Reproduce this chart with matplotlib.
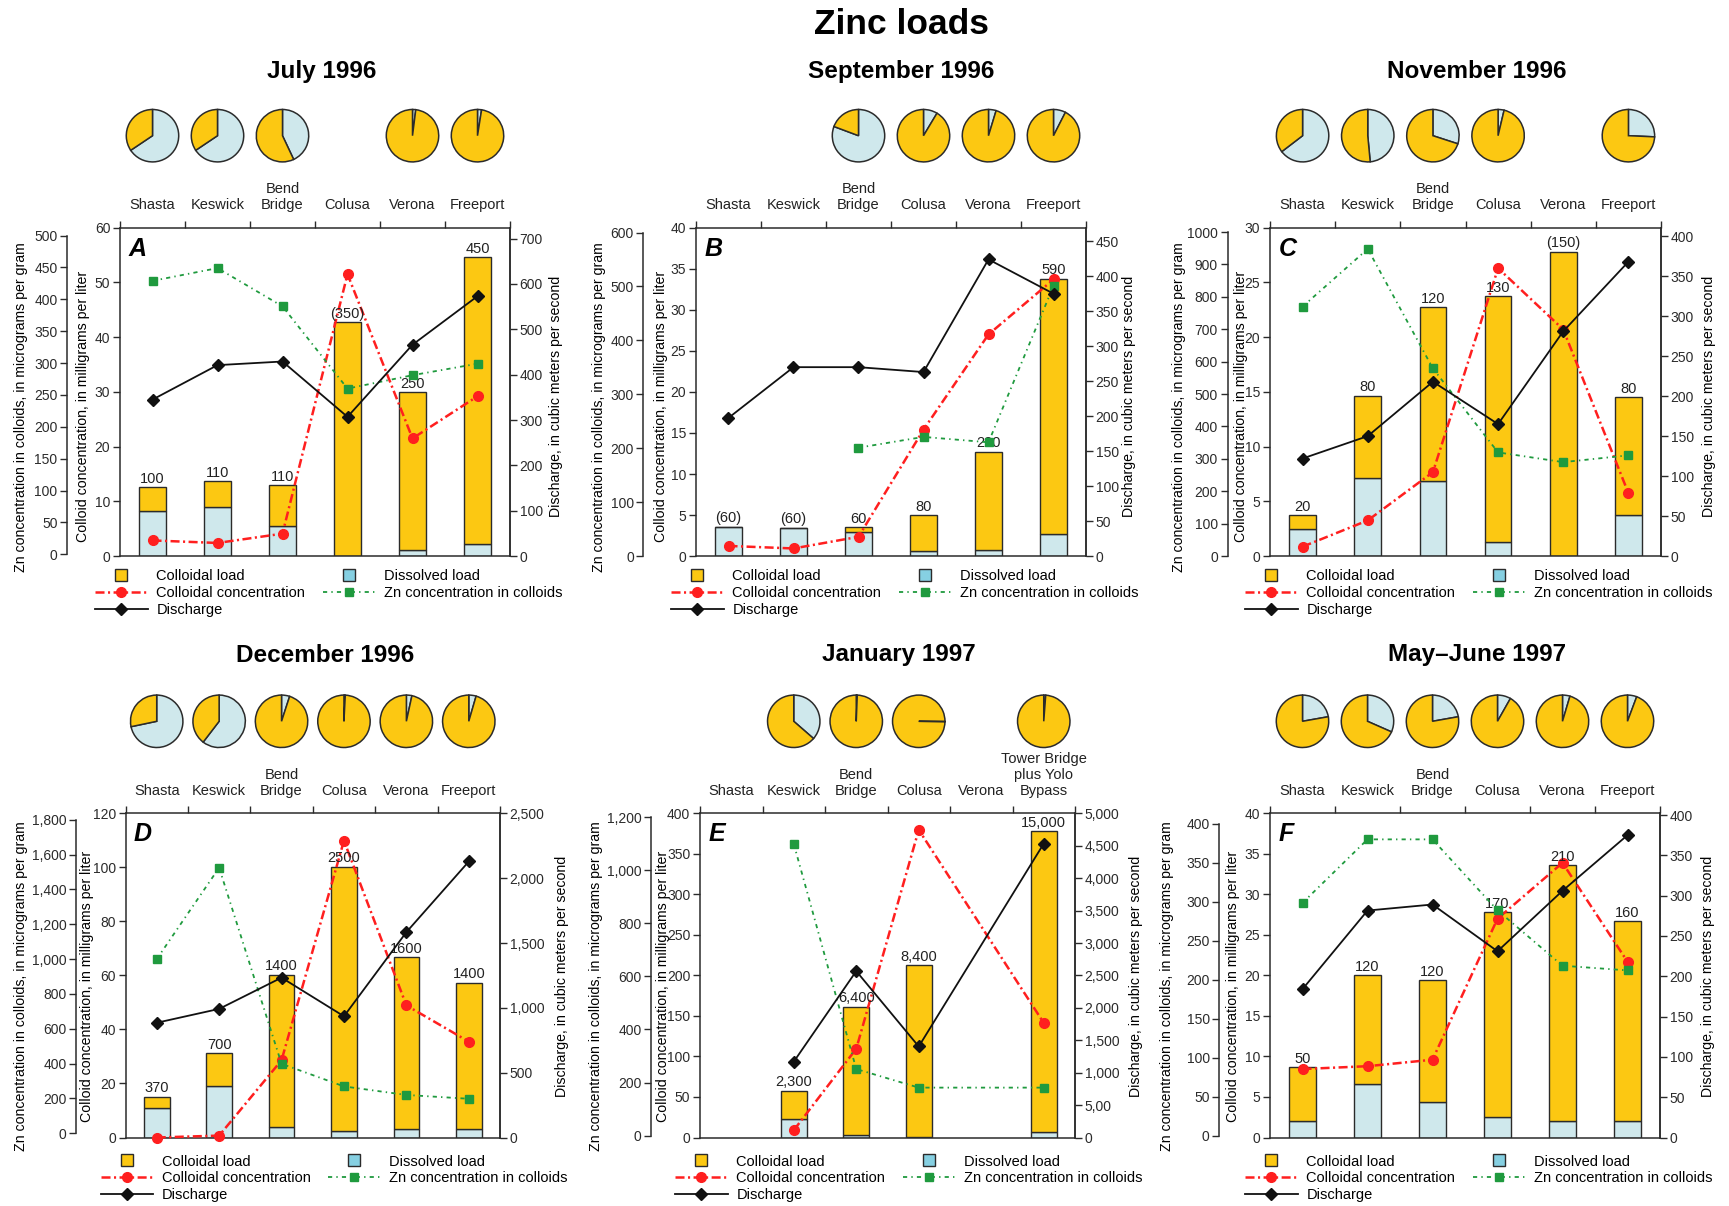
import numpy as np
import matplotlib
matplotlib.use('Agg')
import matplotlib.pyplot as plt
from matplotlib.lines import Line2D
from matplotlib.ticker import FixedLocator, FixedFormatter

plt.rcParams['font.family'] = ['Liberation Sans', 'DejaVu Sans']
plt.rcParams['lines.scale_dashes'] = False
plt.rcParams['axes.edgecolor'] = '#2b2b2b'
plt.rcParams['xtick.color'] = '#2b2b2b'
plt.rcParams['ytick.color'] = '#2b2b2b'

nan = np.nan

# ---------------- data ----------------
stations = ['Shasta', 'Keswick', 'Bend\nBridge', 'Colusa', 'Verona', 'Freeport']
stations_E = ['Shasta', 'Keswick', 'Bend\nBridge', 'Colusa', 'Verona',
              'Tower Bridge\nplus Yolo\nBypass']

# A  July 1996
A_dissolved = [8.3, 8.9, 5.5, 0.0, 1.06, 2.3]
A_colloidal = [4.3, 4.8, 7.5, 42.7, 28.94, 52.3]
A_labels = ['100', '110', '110', '(350)', '250', '450']
A_colconc = [2.86, 2.4, 4.1, 51.5, 21.5, 29.2]
A_zn = [429, 449, 389, 260, 281, 299]
A_discharge = [345, 421, 429, 307, 466, 573]
A_pie = [0.656, 0.656, 0.43, nan, 0.02, 0.025]

# B  September 1996
B_dissolved = [3.6, 3.45, 2.9, 0.62, 0.8, 2.7]
B_colloidal = [0.0, 0.0, 0.65, 4.34, 11.9, 31.1]
B_labels = ['(60)', '(60)', '60', '80', '220', '590']
B_colconc = [1.24, 0.93, 2.35, 15.4, 27.0, 33.7]
B_zn = [nan, nan, 201, 221, 211, 501]
B_discharge = [197.5, 270, 270, 263, 424, 375]
B_pie = [nan, nan, 0.807, 0.086, 0.047, 0.075]

# C  November 1996
C_dissolved = [2.43, 7.14, 6.9, 1.26, 0.0, 3.8]
C_colloidal = [1.29, 7.51, 15.86, 22.49, 27.8, 10.7]
C_labels = ['20', '80', '120', '130', '(150)', '80']
C_colconc = [0.86, 3.26, 7.67, 26.3, 20.7, 5.75]
C_zn = [770, 948, 579, 320, 290, 311]
C_discharge = [122, 150, 218, 165, 281, 368]
C_pie = [0.646, 0.485, 0.30, 0.037, nan, 0.257]

# D  December 1996
D_dissolved = [10.8, 18.9, 3.8, 2.3, 3.0, 3.0]
D_colloidal = [4.3, 12.4, 56.5, 97.9, 63.7, 54.3]
D_labels = ['370', '700', '1400', '2500', '1600', '1400']
D_colconc = [0.0, 0.7, 28.6, 109.9, 48.9, 35.5]
D_zn = [1000, 1525, 399, 269, 220, 198]
D_discharge = [885, 992, 1233, 935, 1584, 2129]
D_pie = [0.717, 0.604, 0.05, 0.008, 0.034, 0.045]

# E  January 1997
E_dissolved = [nan, 22.5, 3.6, 0.9, nan, 6.8]
E_colloidal = [nan, 35.2, 157.7, 212.1, nan, 371.2]
E_labels = ['', '2,300', '6,400', '8,400', '', '15,000']
E_colconc = [nan, 9.0, 109.5, 379.7, nan, 141.4]
E_zn = [nan, 1099, 251, 181, nan, 181]
E_discharge = [nan, 1169, 2567, 1404, nan, 4534]
E_pie = [nan, 0.364, 0.006, 0.003, nan, 0.012]
E_pie_start = [90, 90, 90, 0, 90, 90]

# F  May-June 1997
F_dissolved = [2.0, 6.57, 4.42, 2.55, 2.0, 2.0]
F_colloidal = [6.67, 13.43, 14.98, 25.25, 31.6, 24.7]
F_labels = ['50', '120', '120', '170', '210', '160']
F_colconc = [8.45, 8.8, 9.6, 27.0, 33.9, 21.7]
F_zn = [298.5, 380, 380, 289, 218, 212]
F_discharge = [184, 281.5, 289, 231, 306, 375]
F_pie = [0.222, 0.316, 0.222, 0.082, 0.046, 0.057]

# tick values / labels
A_mid_ticks = list(range(0, 61, 10)); A_out_ticks = list(range(0, 501, 50)); A_r_ticks = list(range(0, 701, 100))
B_mid_ticks = list(range(0, 41, 5)); B_out_ticks = list(range(0, 601, 100)); B_r_ticks = list(range(0, 451, 50))
C_mid_ticks = list(range(0, 31, 5)); C_out_ticks = list(range(0, 1001, 100)); C_r_ticks = list(range(0, 401, 50))
D_mid_ticks = list(range(0, 121, 20)); D_out_ticks = list(range(0, 1801, 200)); D_r_ticks = list(range(0, 2501, 500))
E_mid_ticks = list(range(0, 401, 50)); E_out_ticks = list(range(0, 1201, 200)); E_r_ticks = list(range(0, 5001, 500))
F_mid_ticks = list(range(0, 41, 5)); F_out_ticks = list(range(0, 401, 50)); F_r_ticks = list(range(0, 401, 50))
E_r_ticklabels = ['0', '5,00', '1,000', '1,500', '2,000', '2,500', '3,000',
                  '3,500', '4,000', '4,500', '5,000']

# ---------------- style ----------------
YELLOW = '#FCC812'
LBLUE = '#CFE8EC'
LBLUE_LEG = '#86D0E2'
RED = '#FF1F1F'
GREEN = '#1F9A3E'
BLACK = '#111111'
EDGE = '#2b2b2b'

W, H, DPI = 1729, 1206, 100
fig = plt.figure(figsize=(W / DPI, H / DPI), dpi=DPI)
fig.patch.set_facecolor('white')

def commas(v):
    return [f'{t:,.0f}' for t in v]

def plain(v):
    return [str(t) for t in v]

row1 = dict(T=227.7, B=556.1, title_y=71.4, pie_y=135.7, leg_dy=13, ly_left=0.455, ly_right=0.485)
row2 = dict(T=813.4, B=1137.5, title_y=655.0, pie_y=721.3, leg_dy=17, ly_left=0.466, ly_right=0.497)

# label centre x positions (px): outer, middle, right
panels = [
    dict(letter='A', title='July 1996', st=stations, diss=A_dissolved, coll=A_colloidal, lab=A_labels,
         cc=A_colconc, zn=A_zn, q=A_discharge, pie=A_pie, pie_start=None,
         L=120, R=510, off=52.7, tx=321.8, ymid=(0, 60), yout=(-2.8, 512.4), yr=(0, 724),
         lx=(20.7, 83, 556.4),
         mt=A_mid_ticks, ot=A_out_ticks, otl=plain(A_out_ticks), rt=A_r_ticks, rtl=plain(A_r_ticks), **row1),
    dict(letter='B', title='September 1996', st=stations, diss=B_dissolved, coll=B_colloidal, lab=B_labels,
         cc=B_colconc, zn=B_zn, q=B_discharge, pie=B_pie, pie_start=None,
         L=696, R=1086, off=52.5, tx=901, ymid=(0, 40), yout=(0, 608.9), yr=(0, 469.3),
         lx=(598.9, 660.6, 1128.6),
         mt=B_mid_ticks, ot=B_out_ticks, otl=plain(B_out_ticks), rt=B_r_ticks, rtl=plain(B_r_ticks), **row1),
    dict(letter='C', title='November 1996', st=stations, diss=C_dissolved, coll=C_colloidal, lab=C_labels,
         cc=C_colconc, zn=C_zn, q=C_discharge, pie=C_pie, pie_start=None,
         L=1270, R=1661, off=42.5, tx=1476.8, ymid=(0, 30), yout=(0, 1013.5), yr=(0, 410.5),
         lx=(1179.5, 1240.5, 1709.4),
         mt=C_mid_ticks, ot=C_out_ticks, otl=plain(C_out_ticks), rt=C_r_ticks, rtl=plain(C_r_ticks), **row1),
    dict(letter='D', title='December 1996', st=stations, diss=D_dissolved, coll=D_colloidal, lab=D_labels,
         cc=D_colconc, zn=D_zn, q=D_discharge, pie=D_pie, pie_start=None,
         L=125.5, R=500, off=49.1, tx=325.5, ymid=(0, 120), yout=(-24.4, 1837), yr=(0, 2500),
         lx=(20.7, 87.3, 561.8),
         mt=D_mid_ticks, ot=D_out_ticks, otl=commas(D_out_ticks), rt=D_r_ticks, rtl=commas(D_r_ticks), **row2),
    dict(letter='E', title='January 1997', st=stations_E, diss=E_dissolved, coll=E_colloidal, lab=E_labels,
         cc=E_colconc, zn=E_zn, q=E_discharge, pie=E_pie, pie_start=E_pie_start,
         L=700, R=1075, off=48.8, tx=898.5, ymid=(0, 400), yout=(-6.8, 1213.6), yr=(0, 5000),
         lx=(595.9, 662.5, 1136.0),
         mt=E_mid_ticks, ot=E_out_ticks, otl=commas(E_out_ticks), rt=E_r_ticks, rtl=E_r_ticklabels, **row2),
    dict(letter='F', title='May\u2013June 1997', st=stations, diss=F_dissolved, coll=F_colloidal, lab=F_labels,
         cc=F_colconc, zn=F_zn, q=F_discharge, pie=F_pie, pie_start=None,
         L=1270, R=1660, off=50.6, tx=1477.4, ymid=(0, 40), yout=(-2.3, 413.3), yr=(0, 402),
         lx=(1166.6, 1233.0, 1707.6),
         mt=F_mid_ticks, ot=F_out_ticks, otl=plain(F_out_ticks), rt=F_r_ticks, rtl=plain(F_r_ticks), **row2),
]

TICK_FS = 10
LABEL_FS = 10.2

def style_yaxis(a, side, ticks, labels):
    a.yaxis.set_major_locator(FixedLocator(ticks))
    a.yaxis.set_major_formatter(FixedFormatter(labels))
    a.tick_params(axis='y', direction='out', length=5, width=1, labelsize=TICK_FS, pad=2,
                  left=(side == 'left'), right=(side == 'right'),
                  labelleft=(side == 'left'), labelright=(side == 'right'),
                  labelcolor='#2b2b2b')

def place_label(a, text, xpx, yfrac, L, R):
    a.set_ylabel(text, fontsize=LABEL_FS)
    a.yaxis.set_label_coords((xpx - L) / (R - L), yfrac)
    a.yaxis.label.set_verticalalignment('center')
    a.yaxis.label.set_horizontalalignment('center')


for p in panels:
    L, R, T, B = p['L'], p['R'], p['T'], p['B']
    ax = fig.add_axes([L / W, 1 - B / H, (R - L) / W, (B - T) / H])
    x = np.arange(6)
    diss = np.array(p['diss'], float)
    coll = np.array(p['coll'], float)
    ok = ~np.isnan(diss)
    ax.bar(x[ok], diss[ok], width=0.41, color=LBLUE, edgecolor=EDGE, linewidth=1.0, zorder=2)
    ax.bar(x[ok], coll[ok], bottom=diss[ok], width=0.41, color=YELLOW, edgecolor=EDGE,
           linewidth=1.0, zorder=2)
    for xi, d, c, lab in zip(x, diss, coll, p['lab']):
        if lab and not np.isnan(d):
            ax.annotate(lab, (xi, d + c), xytext=(0, 1), textcoords='offset points',
                        ha='center', va='bottom', fontsize=10.5, color='#222222', zorder=5)
    ax.set_xlim(-0.5, 5.5)
    ax.set_ylim(*p['ymid'])
    for s in ax.spines.values():
        s.set_linewidth(1.1)

    # top axis: boundaries ticks + station names
    ax.xaxis.set_ticks_position('top')
    ax.set_xticks(np.arange(-0.5, 6, 1.0))
    ax.set_xticklabels([])
    ax.set_xticks(x, labels=p['st'], minor=True)
    ax.tick_params(axis='x', which='major', direction='out', length=5, width=1,
                   top=True, bottom=False, labeltop=False, labelbottom=False)
    ax.tick_params(axis='x', which='minor', length=0, pad=11, top=True, bottom=False,
                   labeltop=True, labelbottom=False, labelsize=10.5, labelcolor='#222222')

    style_yaxis(ax, 'left', p['mt'], plain(p['mt']))
    place_label(ax, 'Colloid concentration, in milligrams per liter', p['lx'][1],
                p['ly_left'], L, R)

    # colloidal concentration line
    cc = np.array(p['cc'], float)
    m = ~np.isnan(cc)
    ax.plot(x[m], cc[m], color=RED, lw=1.8, dashes=(6.5, 2.5, 1.5, 2.5), marker='o', ms=7,
            mec=RED, mfc=RED, zorder=4, clip_on=False)

    # outer left axis (Zn concentration)
    ax_o = ax.twinx()
    for s in ['top', 'bottom', 'right']:
        ax_o.spines[s].set_visible(False)
    ax_o.spines['left'].set_visible(True)
    ax_o.spines['left'].set_linewidth(1.1)
    ax_o.spines['left'].set_position(('outward', p['off'] * 72 / DPI))
    ax_o.yaxis.set_ticks_position('left')
    ax_o.yaxis.set_label_position('left')
    ax_o.set_ylim(*p['yout'])
    style_yaxis(ax_o, 'left', p['ot'], p['otl'])
    ax_o.spines['left'].set_bounds(0, p['ot'][-1])
    place_label(ax_o, 'Zn concentration in colloids, in micrograms per gram', p['lx'][0],
                p['ly_left'], L, R)
    zn = np.array(p['zn'], float)
    m = ~np.isnan(zn)
    ax_o.plot(x[m], zn[m], color=GREEN, lw=1.3, dashes=(3, 3, 1, 3), marker='s', ms=6,
              mec=GREEN, mfc=GREEN, zorder=4, clip_on=False)

    # right axis (discharge)
    ax_r = ax.twinx()
    for s in ['top', 'bottom', 'left']:
        ax_r.spines[s].set_visible(False)
    ax_r.spines['right'].set_linewidth(1.1)
    ax_r.set_ylim(*p['yr'])
    style_yaxis(ax_r, 'right', p['rt'], p['rtl'])
    ax_r.yaxis.set_label_position('right')
    place_label(ax_r, 'Discharge, in cubic meters per second', p['lx'][2], p['ly_right'], L, R)
    q = np.array(p['q'], float)
    m = ~np.isnan(q)
    ax_r.plot(x[m], q[m], color=BLACK, lw=1.3, marker='D', ms=6, mec=BLACK, mfc=BLACK,
              zorder=4, clip_on=False)

    # panel letter
    ax.text(0.022, 0.972, p['letter'], transform=ax.transAxes, fontsize=18, fontweight='bold',
            fontstyle='italic', va='top', ha='left', zorder=6)

    # title
    fig.text(p['tx'] / W, 1 - p['title_y'] / H, p['title'], ha='center', va='center',
             fontsize=17.5, fontweight='bold')

    # pies
    r = 27
    for i, f in enumerate(p['pie']):
        if np.isnan(f):
            continue
        cx = L + (i + 0.5) * (R - L) / 6
        cy = p['pie_y']
        pa = fig.add_axes([(cx - r) / W, 1 - (cy + r) / H, 2 * r / W, 2 * r / H])
        start = 90 if p['pie_start'] is None else p['pie_start'][i]
        pa.pie([f, 1 - f], colors=[LBLUE, YELLOW], startangle=start, counterclock=False,
               wedgeprops=dict(edgecolor=EDGE, linewidth=1.1))
        pa.set_xlim(-1.03, 1.03)
        pa.set_ylim(-1.03, 1.03)
        pa.set_aspect('equal')
        pa.axis('off')

    # legend
    handles = [
        Line2D([], [], ls='none', marker='s', ms=8.5, mfc=YELLOW, mec=EDGE),
        Line2D([], [], color=RED, lw=1.8, dashes=(6.5, 2.5, 1.5, 2.5), marker='o', ms=7,
               mfc=RED, mec=RED),
        Line2D([], [], color=BLACK, lw=1.3, marker='D', ms=6, mfc=BLACK, mec=BLACK),
        Line2D([], [], ls='none', marker='s', ms=8.5, mfc=LBLUE_LEG, mec=EDGE),
        Line2D([], [], color=GREEN, lw=1.3, dashes=(3, 3, 1, 3), marker='s', ms=6,
               mfc=GREEN, mec=GREEN),
    ]
    labels = ['Colloidal load', 'Colloidal concentration', 'Discharge', 'Dissolved load',
              'Zn concentration in colloids']
    ax.legend(handles, labels, ncol=2, loc='upper left',
              bbox_to_anchor=(-25 / (R - L), -p['leg_dy'] / (B - T)),
              frameon=False, fontsize=10.5, handlelength=3.6, handletextpad=0.6,
              columnspacing=1.2, labelspacing=0.2, borderpad=0, borderaxespad=0, numpoints=1)

fig.text(901 / W, 1 - 24 / H, 'Zinc loads', ha='center', va='center', fontsize=25.5,
         fontweight='bold')

fig.savefig('out.png', dpi=DPI, facecolor='white')
